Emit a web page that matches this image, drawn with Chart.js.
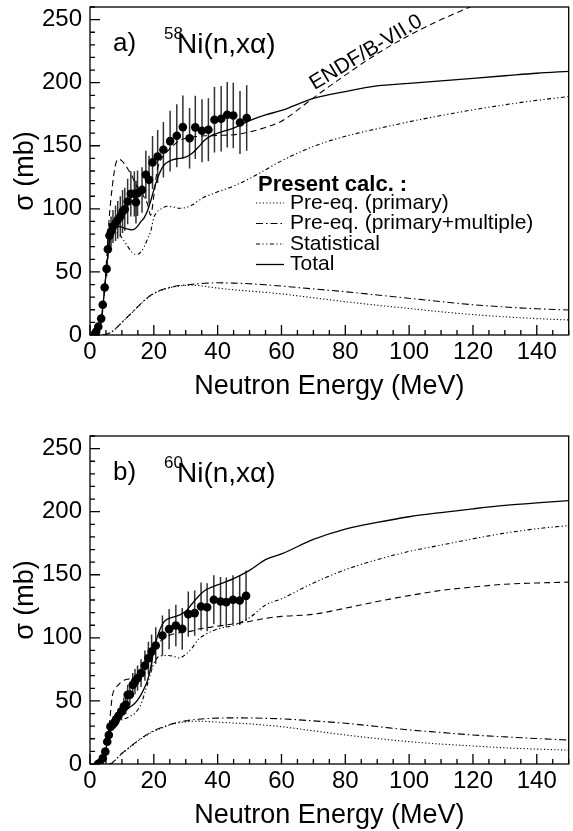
<!DOCTYPE html>
<html>
<head>
<meta charset="utf-8">
<script src="https://cdn.jsdelivr.net/npm/chart.js@4.4.0/dist/chart.umd.min.js"></script>
<style>
  body { margin: 0; background: #fff; overflow: hidden; }
  canvas { position: absolute; left: 0; }
</style>
</head>
<body>
<canvas id="chart-a" width="573" height="415" style="top:0"></canvas>
<canvas id="chart-b" width="573" height="415" style="top:429px"></canvas>
<script>
// Energy grid shared by the calculated curves (MeV)
const gridE = [2, 3, 4, 5, 6, 7, 8, 9, 10, 11, 12, 13, 14, 15, 16, 17, 18, 19, 20, 21, 22, 23, 24,
  26, 28, 30, 32, 34, 36, 38, 40, 45, 50, 55, 60, 70, 80, 90, 100, 110, 120, 130, 140, 150];

// Panel a) 58Ni(n,xa) - calculated curves (mb)
const aTotal = [0.5, 4, 22, 48, 73, 83, 85.5, 86, 85.5, 84.5, 84, 83.3, 84, 86.5, 90, 93, 98.5, 106, 115, 123, 129.5, 134, 136.5,
  139, 140, 141, 144, 149, 154.5, 158, 160, 164, 170, 174.5, 178, 187.5, 193, 197.5, 199.5, 201.5, 203.5, 205.5, 207.5, 209];
const aStat = [0.5, 4, 22, 48, 72, 80, 81, 80.5, 77, 73.5, 69.5, 66, 64, 64, 66, 70, 76, 82, 93, 97.5, 99.5, 101, 102,
  101.5, 100.5, 101, 103, 106.5, 109.5, 111.5, 113.5, 118, 124, 131, 138, 149.5, 157.5, 163.5, 169, 174, 178.5, 182.5, 186, 189];
const aMulti = [null, null, 0, 0.5, 1.5, 3, 5, 7.5, 10, 12.5, 15, 17.5, 20, 22.5, 25, 27.5, 29.5, 31.5, 33, 34.3, 35.4, 36.3, 37,
  38.3, 39.2, 39.7, 40.2, 40.6, 41, 41.2, 41.4, 41.1, 40.6, 39.8, 38.8, 36.5, 34.3, 31.7, 29.1, 26.5, 24, 22.2, 20.8, 19.8];
const aPrim = [null, null, 0, 0.4, 1.4, 2.8, 4.8, 7.3, 9.8, 12.3, 14.8, 17.3, 19.8, 22.3, 24.8, 27.2, 29.2, 31.2, 32.7, 34, 35.1, 36, 36.7,
  38.1, 38.9, 39.3, 39.4, 39.2, 38.6, 37.8, 37.2, 35.8, 34.8, 33.8, 32.6, 29.5, 26.4, 23.6, 21, 18.4, 16.2, 14.4, 13, 11.9];
const aEndf = [0.5, 4, 20, 50, 92, 118, 135, 139.5, 138, 135, 131, 127, 121, 117, 114, 109, 104, 95, 110, 130, 138, 142, 145,
  150, 154, 156, 157, 157.5, 158, 158, 158.3, 158.7, 161, 164.5, 169.5, 188, 206, 223, 237.5, 250, 261, null, null, null];

// Panel a) measured points
const aExpE = [1.5, 1.9, 2.6, 3.5, 4.0, 4.6, 5.2, 5.6, 6.1, 6.6, 7.2, 8.0, 8.7, 9.5, 10.2, 10.9, 11.8, 12.8, 13.9, 14.4,
  14.9, 16.3, 17.5, 18.5, 19.6, 21.2, 23.0, 25.1, 27.2, 29.1, 31.2, 33.0, 35.1, 37.1, 39.0, 41.1, 43.0, 44.9, 47.0, 49.1];
const aExpS = [0.5, 2.6, 6.6, 13, 24, 37.6, 52.4, 68, 78.8, 82, 86, 88.6, 91.3, 93.9, 97.9, 99.7, 105.8, 111.9, 111.9, 105.3,
  112.4, 115, 127, 123, 136.8, 141.5, 146.8, 153.7, 158, 164.8, 156, 164.6, 161.9, 162.7, 170.6, 171.4, 174.6, 174, 168.5, 172];
const aExpErr = [1, 1, 1.5, 2, 3, 4, 6, 8, 10, 12, 13, 14, 15, 16, 17, 17, 18, 18, 18, 17,
  18, 18, 19, 19, 21, 21, 22, 24, 25, 25, 24, 25, 25, 25, 26, 26, 26, 26, 25, 26];

// Panel b) 60Ni(n,xa) - calculated curves (mb)
const bTotal = [null, 0, 3, 12, 26, 32, 35, 37, 39, 41.5, 44, 46, 48, 51, 55, 60, 66, 76, 90, 100, 107, 112, 114.5,
  116.5, 118, 121, 127, 133, 137.5, 140, 142, 147, 153.5, 162, 166.5, 178, 186.2, 191.5, 196, 199.3, 202.3, 205, 207, 208.7];
const bStat = [null, 0, 3, 12, 25, 30.5, 33, 34, 35, 36, 37, 38.5, 40, 43, 47.5, 55, 63, 72, 79.5, 84, 85.5, 86, 86,
  85.5, 84, 87, 92, 99, 102.5, 105, 107, 110, 116, 126, 131, 143.5, 154, 162, 168.5, 173.5, 178.5, 183, 186.5, 189];
const bMulti = [null, null, null, null, 0, 1, 3.5, 6, 8.5, 10.5, 12.5, 14.5, 16.5, 18.5, 20.5, 22, 23.5, 25, 26.5, 27.5, 28.5, 29.5, 30.5,
  32, 33.3, 34.2, 35, 35.5, 35.9, 36.2, 36.4, 36.6, 36.5, 36.2, 35.8, 34.2, 32.3, 29.7, 27, 25, 23, 21.5, 20.2, 19];
const bPrim = [null, null, null, null, 0, 0.9, 3.3, 5.8, 8.3, 10.3, 12.3, 14.3, 16.2, 18.2, 20.1, 21.6, 23.1, 24.6, 26, 27, 28, 29, 30,
  31.8, 32.8, 33.4, 33.8, 34, 33.8, 33.5, 33.2, 32.5, 31.8, 30.8, 29.6, 26.3, 23, 20.2, 17.7, 15.8, 14.3, 12.8, 11.8, 11];
const bEndf = [null, 0, 3, 12, 30, 54, 60, 63, 65.5, 66.7, 67.3, 67.8, 68, 67, 68, 72, 78, 84, 89, 93.5, 97, 99.7, 101,
  103, 104, 104.5, 105.5, 107, 107.8, 108.5, 109.3, 111, 113, 115.5, 117, 118.7, 123.5, 128.8, 133.5, 137.6, 140.3, 142.5, 143.5, 144.2];

// Panel b) measured points
const bExpE = [2.5, 3.0, 4.0, 4.8, 5.4, 5.9, 6.4, 7.2, 7.7, 8.2, 8.9, 9.8, 10.6, 11.2, 11.8, 12.5, 13.4, 14.1, 14.9, 16.0,
  17.2, 18.3, 19.3, 20.6, 22.7, 24.8, 26.9, 28.9, 30.8, 32.8, 34.8, 36.7, 38.8, 40.9, 42.7, 44.8, 46.9, 48.9];
const bExpS = [0, 0.8, 4.5, 9.8, 17.7, 23, 29.6, 31.5, 33, 35.4, 38, 41.5, 45.5, 47, 54.8, 55, 62.7, 65.3, 68, 72,
  78, 83.9, 89.1, 93.9, 101.8, 106.9, 109.8, 107.1, 118.8, 119.6, 124.8, 124.3, 130.2, 128.8, 128.3, 130.2, 129.6, 133.3];
const bExpErr = [0.5, 0.5, 1, 2, 3, 3.5, 4.5, 5, 5, 5.5, 6, 6.5, 7, 7.5, 8, 8, 9.5, 10, 10, 11,
  12, 13, 13.5, 14.5, 16, 16, 16.5, 16.5, 18, 18, 19, 19, 19.5, 19.5, 19.5, 19.5, 19.5, 20];

const xTicks = { min: 0, max: 150, step: 20 };
const yTicks = { min: 0, max: 260, step: 50 };
const legendLabels = ['Pre-eq. (primary)', 'Pre-eq. (primary+multiple)', 'Statistical', 'Total'];

const fontFamily = '"Liberation Sans", Arial, Helvetica, sans-serif';
const dashes = {
  primary: [1.2, 2.2],
  multiple: [7, 3, 1.5, 3],
  statistical: [4, 2.5, 1.2, 2.5, 1.2, 2.5],
  endf: [6, 4],
  total: []
};

function curve(label, values, dash, width) {
  return {
    label: label,
    data: gridE.map((e, i) => ({ x: e, y: values[i] })).filter(p => p.y !== null),
    borderColor: '#000',
    borderWidth: width,
    borderDash: dash,
    pointRadius: 0,
    fill: false,
    cubicInterpolationMode: 'monotone'
  };
}

// frame and inside tick marks, ROOT style
const framePlugin = {
  id: 'frame',
  afterDatasetsDraw(chart) {
    const { ctx, chartArea: a, scales: { x, y } } = chart;
    ctx.save();
    ctx.strokeStyle = '#000';
    ctx.lineWidth = 1.3;
    ctx.strokeRect(a.left, a.top, a.right - a.left, a.bottom - a.top);
    ctx.beginPath();
    for (let v = xTicks.min; v <= xTicks.max; v += 5) {
      const px = x.getPixelForValue(v);
      ctx.moveTo(px, a.bottom);
      ctx.lineTo(px, a.bottom - (v % xTicks.step === 0 ? 10 : 5));
    }
    for (let v = yTicks.min; v <= yTicks.max; v += 10) {
      const py = y.getPixelForValue(v);
      ctx.moveTo(a.left, py);
      ctx.lineTo(a.left + (v % yTicks.step === 0 ? 10 : 5), py);
    }
    ctx.stroke();
    ctx.restore();
  }
};

// vertical error bars under the measured points
const errorBarPlugin = {
  id: 'errorBars',
  beforeDatasetsDraw(chart) {
    const ds = chart.data.datasets[0];
    const { ctx, chartArea: a, scales: { x, y } } = chart;
    ctx.save();
    ctx.beginPath();
    ctx.rect(a.left, a.top, a.right - a.left, a.bottom - a.top);
    ctx.clip();
    ctx.strokeStyle = '#333';
    ctx.lineWidth = 1.5;
    ctx.beginPath();
    ds.data.forEach((p, i) => {
      const px = x.getPixelForValue(p.x);
      ctx.moveTo(px, y.getPixelForValue(p.y - ds.errors[i]));
      ctx.lineTo(px, y.getPixelForValue(p.y + ds.errors[i]));
    });
    ctx.stroke();
    ctx.restore();
  }
};

// panel tag, reaction label, legend and ENDF label
const textPlugin = {
  id: 'panelText',
  afterDraw(chart, args, opts) {
    const { ctx, chartArea: a, scales: { x, y } } = chart;
    ctx.save();
    ctx.fillStyle = '#000';
    ctx.textBaseline = 'middle';
    ctx.textAlign = 'left';
    ctx.font = '26px ' + fontFamily;
    ctx.fillText(opts.tag, a.left + 23, a.top + 37);
    ctx.font = '17px ' + fontFamily;
    ctx.fillText(opts.mass, a.left + 74, a.top + 27);
    ctx.font = '28px ' + fontFamily;
    ctx.fillText('Ni(n,x\u03b1)', a.left + 87, a.top + 38);

    if (opts.legend) {
      ctx.font = 'bold 22px ' + fontFamily;
      ctx.fillText('Present calc. :', a.left + 168, a.top + 178);
      ctx.font = '21px ' + fontFamily;
      legendLabels.forEach((lab, i) => {
        const ds = chart.data.datasets.find(d => d.label === lab);
        const ly = a.top + 196 + i * 20.5;
        ctx.beginPath();
        ctx.setLineDash(ds.borderDash);
        ctx.lineWidth = ds.borderWidth;
        ctx.strokeStyle = '#000';
        ctx.moveTo(a.left + 166, ly);
        ctx.lineTo(a.left + 194, ly);
        ctx.stroke();
        ctx.setLineDash([]);
        ctx.fillText(lab, a.left + 200, ly);
      });
    }

    if (opts.endf) {
      ctx.font = '21px ' + fontFamily;
      ctx.textAlign = 'center';
      ctx.translate(x.getPixelForValue(opts.endf.x), y.getPixelForValue(opts.endf.y));
      ctx.rotate(-31 * Math.PI / 180);
      ctx.fillText('ENDF/B-VII.0', 0, 0);
    }
    ctx.restore();
  }
};

function makePanel(id, exp, curves, textOpts) {
  const datasets = [{
    label: 'Data',
    data: exp.e.map((e, i) => ({ x: e, y: exp.s[i] })),
    errors: exp.err,
    showLine: false,
    pointRadius: 4.3,
    pointBackgroundColor: '#000',
    pointBorderWidth: 0
  }];
  datasets.push(curve('Total', curves.total, dashes.total, 1.3));
  datasets.push(curve('ENDF/B-VII.0', curves.endf, dashes.endf, 1.1));
  datasets.push(curve('Statistical', curves.stat, dashes.statistical, 1.1));
  datasets.push(curve('Pre-eq. (primary+multiple)', curves.multi, dashes.multiple, 1.1));
  datasets.push(curve('Pre-eq. (primary)', curves.prim, dashes.primary, 1.1));

  new Chart(document.getElementById(id), {
    type: 'line',
    data: { datasets: datasets },
    plugins: [errorBarPlugin, framePlugin, textPlugin],
    options: {
      responsive: false,
      animation: false,
      devicePixelRatio: 1,
      layout: { padding: { top: 7, right: 1, left: 0, bottom: 0 } },
      plugins: {
        legend: { display: false },
        tooltip: { enabled: false },
        panelText: textOpts
      },
      scales: {
        x: {
          type: 'linear',
          min: xTicks.min,
          max: xTicks.max,
          border: { display: false },
          grid: { display: false, drawTicks: false },
          ticks: {
            stepSize: xTicks.step,
            includeBounds: false,
            maxRotation: 0,
            autoSkip: false,
            padding: 3,
            color: '#000',
            font: { family: fontFamily, size: 24 }
          },
          title: {
            display: true,
            text: 'Neutron Energy (MeV)',
            color: '#000',
            font: { family: fontFamily, size: 27 },
            padding: { top: 0, bottom: 12 }
          },
          afterFit: s => { s.height = 80; s.paddingLeft = 0; s.paddingRight = 0; }
        },
        y: {
          min: yTicks.min,
          max: yTicks.max,
          border: { display: false },
          grid: { display: false, drawTicks: false },
          ticks: {
            stepSize: yTicks.step,
            includeBounds: false,
            padding: 8,
            color: '#000',
            font: { family: fontFamily, size: 24 }
          },
          title: {
            display: true,
            text: '\u03c3 (mb)',
            color: '#000',
            font: { family: fontFamily, size: 27 },
            padding: { top: 9, bottom: 0 }
          },
          afterFit: s => { s.width = 90; s.paddingTop = 0; s.paddingBottom = 0; }
        }
      }
    }
  });
}

document.addEventListener('DOMContentLoaded', function () {
  makePanel('chart-a',
    { e: aExpE, s: aExpS, err: aExpErr },
    { total: aTotal, stat: aStat, multi: aMulti, prim: aPrim, endf: aEndf },
    { tag: 'a)', mass: '58', legend: true, endf: { x: 86.5, y: 224 } });
  makePanel('chart-b',
    { e: bExpE, s: bExpS, err: bExpErr },
    { total: bTotal, stat: bStat, multi: bMulti, prim: bPrim, endf: bEndf },
    { tag: 'b)', mass: '60', legend: false, endf: null });
});
</script>
</body>
</html>
